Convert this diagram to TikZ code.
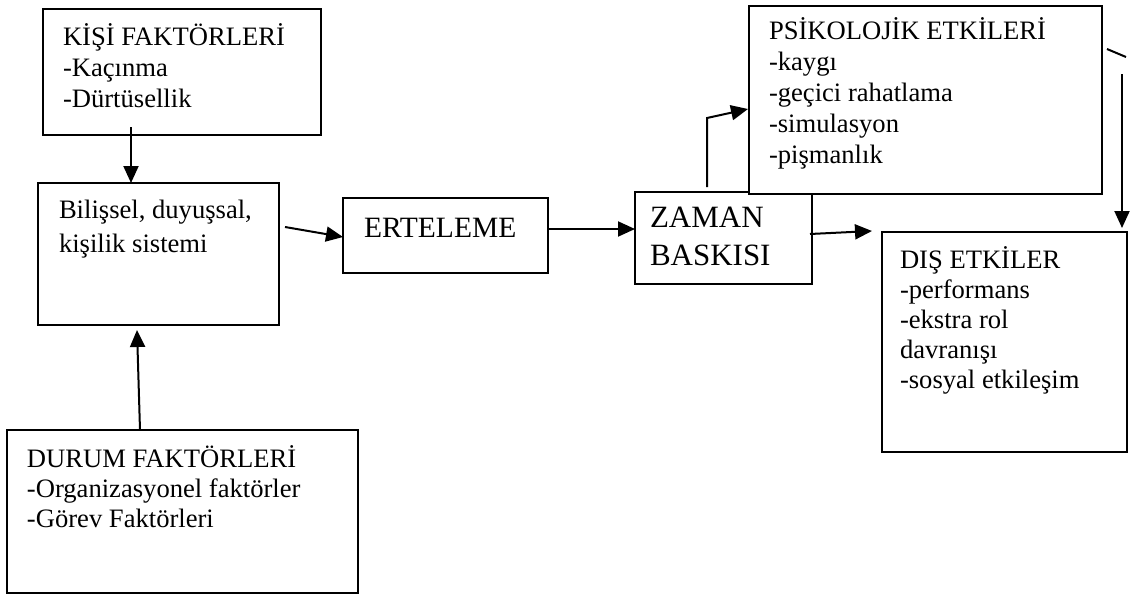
\documentclass[tikz,border=0pt]{standalone}
\usepackage{fontspec}
\setmainfont{Liberation Serif}
\usetikzlibrary{arrows.meta,calc}
\begin{document}
\begin{tikzpicture}[x=1pt,y=-1pt,
  box/.style={draw,line width=2pt,fill=white,inner sep=0pt,outer sep=0pt,rectangle},
  txt/.style={anchor=base west,align=left,inner sep=0pt,outer sep=0pt},
  conn/.style={line width=2pt,-{Triangle[length=17pt,width=15pt]}},
  plain/.style={line width=2pt}
]
\useasboundingbox (0,0) rectangle (1130,605);
% boxes
\node[box,minimum width=278pt,minimum height=126pt] (kisi) at (182,72) {};
\node[box,minimum width=241pt,minimum height=142pt] (bil) at (158.5,254) {};
\node[box,minimum width=205pt,minimum height=75pt] (ert) at (445.5,235.5) {};
\node[box,minimum width=177pt,minimum height=92pt] (zam) at (723.5,238) {};
\node[box,minimum width=353pt,minimum height=188pt] (psi) at (925.5,100) {};
\node[box,minimum width=245pt,minimum height=220pt] (dis) at (1004.5,342) {};
\node[box,minimum width=351pt,minimum height=163pt] (dur) at (182.5,511.5) {};
% texts (anchor = baseline of the last line)
\node[txt,font=\fontsize{26.6}{31}\selectfont] (kisiT) at (63,107) {KİŞİ FAKTÖRLERİ\\-Kaçınma\\-Dürtüsellik};
\node[txt,font=\fontsize{26.6}{34}\selectfont] (bilT) at (59,252) {Bilişsel, duyuşsal,\\kişilik sistemi};
\node[txt,font=\fontsize{29.5}{34}\selectfont] (ertT) at (364,237) {ERTELEME};
\node[txt,font=\fontsize{31}{38}\selectfont] (zamT) at (650,265) {ZAMAN\\BASKISI};
\node[txt,font=\fontsize{26.6}{30.8}\selectfont] (psiT) at (769,163) {PSİKOLOJİK ETKİLERİ\\-kaygı\\-geçici rahatlama\\-simulasyon\\-pişmanlık};
\node[txt,font=\fontsize{26.6}{30}\selectfont] (disT) at (900,388) {DIŞ ETKİLER\\-performans\\-ekstra rol\\davranışı\\-sosyal etkileşim};
\node[txt,font=\fontsize{26.6}{30}\selectfont] (durT) at (27,527) {DURUM FAKTÖRLERİ\\-Organizasyonel faktörler\\-Görev Faktörleri};
% connectors
\draw[conn] ($(kisi.south)+(-51,-8)$) -- ($(bil.north)+(-27.5,0)$);
\draw[conn] ($(bil.east)+(6,-27)$) -- ($(ert.west)+(0,1.5)$);
\draw[conn] ($(ert.east)+(0,-6.5)$) -- ($(zam.west)+(0,-9)$);
\coordinate (zbend) at ($(zam.north)+(-16.5,-74)$);
\draw[conn] ($(zam.north)+(-16.5,-5)$) -- (zbend) -- ($(psi.west)+(-1,9)$);
\draw[conn] ($(zam.east)+(-2,-4)$) -- ($(dis.west)+(-10,-111)$);
\draw[plain] ($(psi.east)+(5,-51)$) -- ($(psi.east)+(24,-43)$);
\draw[conn] ($(dis.north east)+(-5,-158)$) -- ($(dis.north east)+(-5,-4)$);
\draw[conn] ($(dur.north)+(-42.5,0)$) -- ($(bil.south)+(-21.5,5)$);
\end{tikzpicture}
\end{document}
